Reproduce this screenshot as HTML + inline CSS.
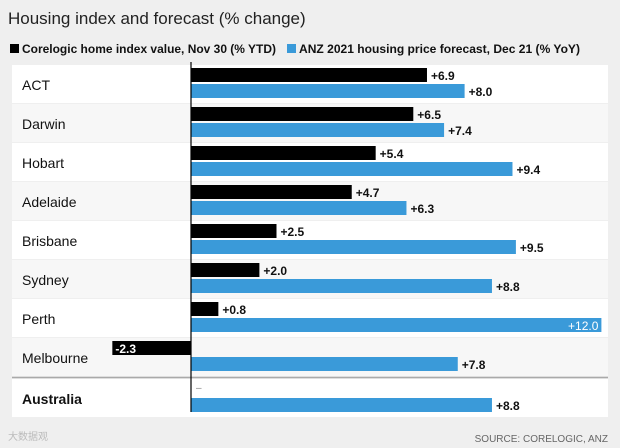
<!DOCTYPE html>
<html><head><meta charset="utf-8"><style>
body{margin:0;width:620px;height:448px;background:#efefef;font-family:"Liberation Sans","Noto Sans CJK SC",sans-serif;overflow:hidden}
svg{display:block}
</style></head><body>
<svg width="620" height="448" id="chart">
<text x="8" y="24" font-size="17" fill="#222">Housing index and forecast (% change)</text>
<g>
<rect x="10" y="44" width="9" height="9" fill="#000"/>
<text x="22" y="53" font-size="11.5" font-weight="bold" fill="#111" textLength="254" lengthAdjust="spacingAndGlyphs">Corelogic home index value, Nov 30 (% YTD)</text>
<rect x="287" y="44" width="9" height="9" fill="#3a9ad9"/>
<text x="299" y="53" font-size="11.5" font-weight="bold" fill="#111" textLength="281" lengthAdjust="spacingAndGlyphs">ANZ 2021 housing price forecast, Dec 21 (% YoY)</text>
</g>
<g id="rows"></g>
<g id="bars"></g>
<line x1="191" y1="62" x2="191" y2="412" stroke="#000" stroke-width="1.2"/>
<text x="608" y="442" font-size="10" fill="#666" text-anchor="end">SOURCE: CORELOGIC, ANZ</text>
<text x="8" y="440" font-size="10" fill="#bbb">大数据观</text>
</svg>
<script>
const categories=["ACT","Darwin","Hobart","Adelaide","Brisbane","Sydney","Perth","Melbourne","Australia"];
const corelogic=[6.9,6.5,5.4,4.7,2.5,2.0,0.8,-2.3,null];
const anz=[8.0,7.4,9.4,6.3,9.5,8.8,12.0,7.8,8.8];
const NS="http://www.w3.org/2000/svg";
const x0=191,ppu=34.2,rowTop=65,pitch=39;
const xs=v=>x0+v*ppu;
const rows=document.getElementById('rows'),bars=document.getElementById('bars');
function mk(tag,attrs,parent){const e=document.createElementNS(NS,tag);for(const k in attrs)e.setAttribute(k,attrs[k]);parent.appendChild(e);return e;}
function fmt(v){return (v>=0?"+":"")+v.toFixed(1);}
categories.forEach((c,i)=>{
  let y=rowTop+i*pitch; if(i===8)y+=2;
  const bg=mk('rect',{x:12,y:y,width:596,height:38,fill:(i%2===0)?"#ffffff":"#f7f7f7"},rows);
  
  
  const t=mk('text',{x:22,y:y+25,'font-size':14,fill:'#111','font-weight':i===8?'bold':'normal'},rows);
  t.textContent=c;
  
  
  const v=corelogic[i];
  if(v!==null){
    const bx=Math.min(xs(0),xs(v)),bw=Math.abs(xs(v)-xs(0));
    const b=mk('rect',{x:bx,y:y+3,width:bw,height:14,fill:'#000'},bars);
    
    
    const l=mk('text',{x:v<0?bx+3:xs(v)+4,y:y+15,'font-size':12,'font-weight':'bold',fill:v<0?'#fff':'#111'},bars);
    l.textContent=fmt(v);
    
    
  } else {
    const l=mk('text',{x:x0+5,y:y+12,'font-size':10,fill:'#888'},bars);
    l.textContent="–";
    
    
  }
  const a=anz[i];
  const b2=mk('rect',{x:xs(0),y:y+19,width:xs(a)-xs(0),height:14,fill:'#3a9ad9'},bars);
  
  
  const inside=a>=11;
  const l2=mk('text',{x:inside?xs(a)-3:xs(a)+4,y:y+31,'font-size':12,'font-weight':inside?'normal':'bold',fill:inside?'#fff':'#111','text-anchor':inside?'end':'start'},bars);
  l2.textContent=fmt(a);
  
  
});
const sep=mk('line',{x1:12,y1:rowTop+8*pitch+0.5,x2:608,y2:rowTop+8*pitch+0.5,stroke:'#aaa','stroke-width':1.5},rows);


</script>
</body></html>
